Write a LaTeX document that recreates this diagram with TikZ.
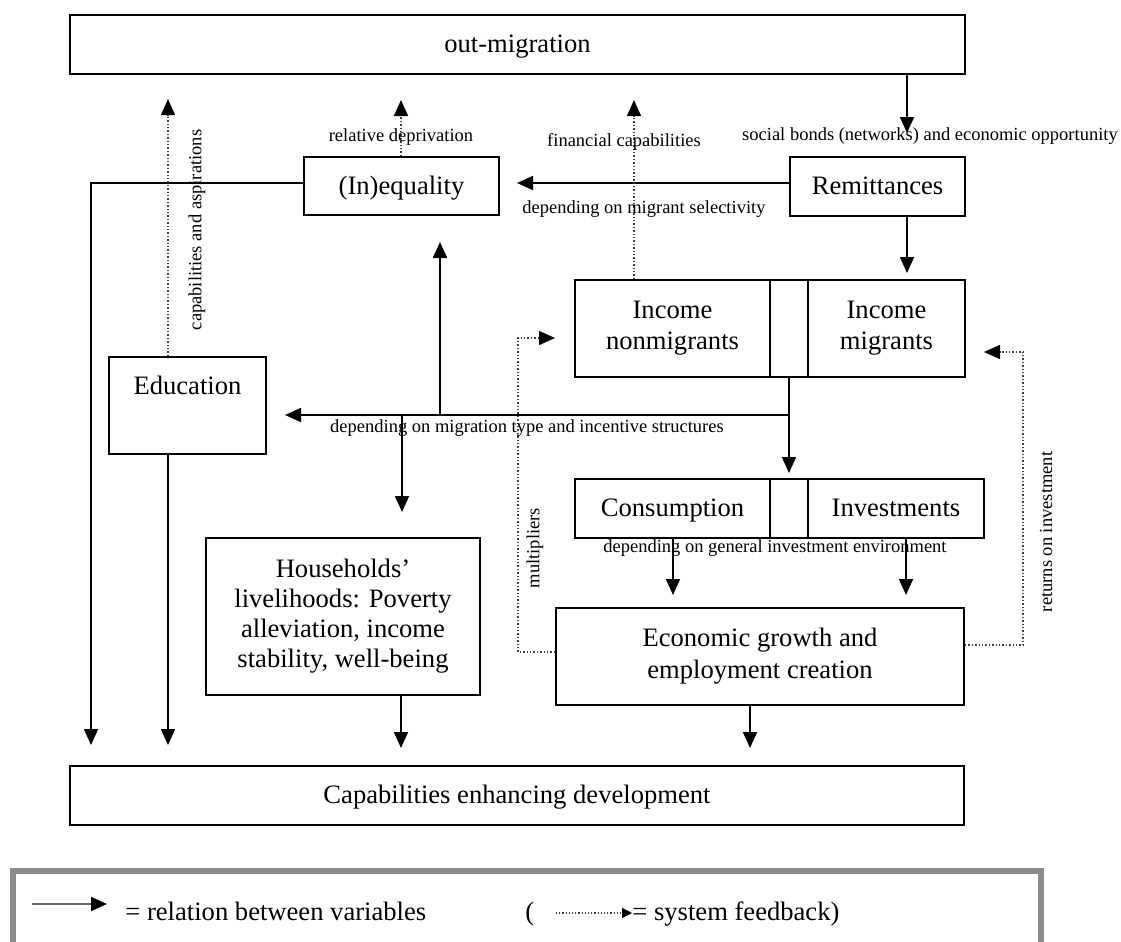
\documentclass[tikz,border=0pt]{standalone}
\usepackage{fontspec}
\setmainfont{Liberation Serif}
\usetikzlibrary{arrows.meta}
\begin{document}
\begin{tikzpicture}[x=0.5pt,y=-0.5pt,
  box/.style={draw,line width=0.9pt,inner sep=0pt,align=center,font=\fontsize{13.3}{15.5}\selectfont},
  one/.style={text height=11pt,text depth=2.9pt},
  txt/.style={inner sep=0pt,align=center,font=\fontsize{13.3}{15.5}\selectfont},
  lbl/.style={inner sep=0pt,font=\fontsize{9.25}{11}\selectfont},
  rel/.style={line width=0.9pt,-{Triangle[length=8pt,width=7pt]}},
  fb/.style={line width=0.7pt,densely dotted,draw=black!75,-{Triangle[length=8pt,width=7pt,color=black]}},
  legfb/.style={line width=0.6pt,densely dotted,draw=black!75,-{Triangle[length=5pt,width=5pt,color=black]}}]
\useasboundingbox (0,0) rectangle (1121,942);
\path[clip] (0,0) rectangle (1121,942);

% boxes
\node[box,one,minimum width=447.5pt,minimum height=29.5pt] (out) at (517.5,44.5) {out-migration};
\node[box,one,minimum width=97.5pt,minimum height=29pt] (ineq) at (401.5,186) {(In)equality};
\node[box,one,minimum width=87.5pt,minimum height=29.5pt] (remit) at (877.5,186.5) {Remittances};
\node[box,minimum width=97.5pt,minimum height=48.5pt] (incnon) at (672.5,328.5) {Income\\nonmigrants};
\node[box,minimum width=19pt,minimum height=48.5pt] (mid) at (789,328.5) {};
\node[box,minimum width=78.5pt,minimum height=48.5pt] (incmig) at (886.5,328.5) {Income\\migrants};
\node[box,minimum width=78.5pt,minimum height=48.5pt] (edu) at (187.5,405.5) {};
\node[txt,one] (edutxt) at (187.5,386) {Education};
\node[box,one,minimum width=97.5pt,minimum height=29.5pt] (cons) at (672.5,508.5) {Consumption};
\node[box,minimum width=19pt,minimum height=29.5pt] (mid2) at (789,508.5) {};
\node[box,one,minimum width=88pt,minimum height=29.5pt] (inv) at (896,508.5) {Investments};
\node[box,minimum width=137pt,minimum height=78.5pt,font=\fontsize{13.3}{15}\selectfont] (hh) at (343,616.5) {Households'\\livelihoods: Poverty\\alleviation, income\\stability, well-being};
\node[box,minimum width=204pt,minimum height=48.5pt,font=\fontsize{13.3}{16}\selectfont] (econ) at (760,656.5) {Economic growth and\\employment creation};
\node[box,one,minimum width=447pt,minimum height=29.5pt] (cap) at (517,795.5) {Capabilities enhancing development};

% coordinates
\coordinate (sb) at (907,133);
\coordinate (rt) at (517,183);
\coordinate (lft) at (91,745);
\coordinate (ri) at (907,273);
\coordinate (ic) at (789,473);
\coordinate (hj) at (789,415);
\coordinate (et) at (285,415);
\coordinate (up) at (440,242);
\coordinate (dn) at (402,512);
\coordinate (ed) at (168,745);
\coordinate (ca) at (673,595);
\coordinate (ia) at (906,595);
\coordinate (ha) at (401,748);
\coordinate (ea) at (750,748);
\coordinate (ce) at (168,99);
\coordinate (rd) at (401,100);
\coordinate (fc) at (634,100);
\coordinate (m1) at (518,652);
\coordinate (m2) at (555,338);
\coordinate (r1) at (1023,645);
\coordinate (r2) at (984,352);

% relations
\draw[rel] (out.south -| sb) -- (sb);
\draw[rel] (remit.west |- rt) -- (rt);
\draw[rel] (ineq.west |- rt) -| (lft);
\draw[rel] (remit.south -| ri) -- (ri);
\draw[rel] (mid.south) -- (ic);
\draw[rel] (hj) -- (et);
\draw[rel] (up |- hj) -- (up);
\draw[rel] (dn |- hj) -- (dn);
\draw[rel] (edu.south -| ed) -- (ed);
\draw[rel] (cons.south -| ca) -- (ca);
\draw[rel] (inv.south -| ia) -- (ia);
\draw[rel] (hh.south -| ha) -- (ha);
\draw[rel] (econ.south -| ea) -- (ea);

% feedbacks
\draw[fb] (edu.north -| ce) -- (ce);
\draw[fb] (ineq.north -| rd) -- (rd);
\draw[fb] (incnon.north -| fc) -- (fc);
\draw[fb] (econ.west |- m1) -- (m1) |- (m2);
\draw[fb] (econ.east |- r1) -- (r1) |- (r2);

% labels
\node[lbl] (l1) at (930,136) {social bonds (networks) and economic opportunity};
\node[lbl] (l2) at (401,137) {relative deprivation};
\node[lbl] (l3) at (624,142) {financial capabilities};
\node[lbl] (l4) at (644,209) {depending on migrant selectivity};
\node[lbl] (l5) at (527,428) {depending on migration type and incentive structures};
\node[lbl] (l6) at (775,548) {depending on general investment environment};
\node[lbl,rotate=90] (l7) at (197,230) {capabilities and aspirations};
\node[lbl,rotate=90] (l8) at (535,548) {multipliers};
\node[lbl,rotate=90] (l9) at (1046,532) {returns on investment};

% legend
\draw[line width=3pt,draw=black!45] (12.5,871) rectangle (1040.5,970);
\coordinate (la1) at (32,904);
\coordinate (la2) at (107,904);
\draw[line width=0.9pt,draw=black!60,-{Triangle[length=8pt,width=7pt,color=black]}] (la1) -- (la2);
\node[txt,anchor=base west] (lt1) at (125,920) {= relation between variables};
\node[txt,anchor=base west] (lp) at (525,920) {(};
\node[txt,anchor=base west] (lt2) at (632,920) {= system feedback)};
\coordinate (lb1) at (556,913);
\draw[legfb] (lb1) -- (lt2.west |- lb1);
\end{tikzpicture}
\end{document}
